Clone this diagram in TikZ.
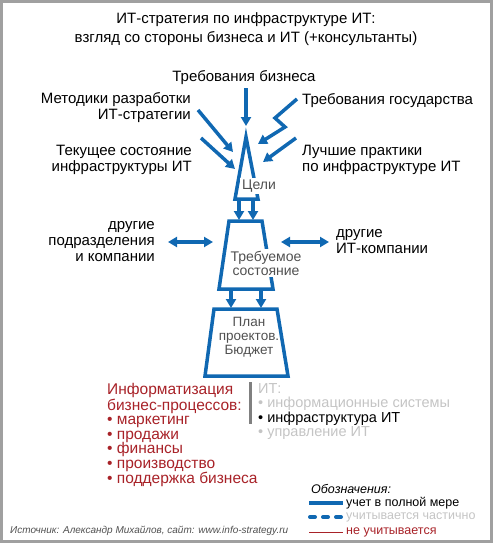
\documentclass[tikz,border=0pt]{standalone}
\usepackage{fontspec}
\setmainfont{Liberation Sans}
\usepackage{tikz}
\usetikzlibrary{arrows.meta}
\usetikzlibrary{positioning}
\usepackage{xcolor}
\definecolor{itblue}{RGB}{16,104,178}
\definecolor{bizred}{RGB}{168,34,40}
\definecolor{softgray}{RGB}{196,196,196}
\definecolor{midgray}{RGB}{80,80,80}
\definecolor{framegray}{RGB}{160,160,160}
\tikzset{
    flow/.style={
        draw=itblue,
        line width=3.5pt,
        -{Triangle[length=9pt, width=10pt]}
    },
    dual/.style={
        draw=itblue,
        line width=3.5pt,
        {Triangle[length=9pt, width=10pt]}-{Triangle[length=9pt, width=10pt]}
    },
    block/.style={
        draw=itblue,
        line width=3.5pt,
        line join=miter
    },
    lbl/.style={
        inner sep=0pt,
        font=\fontsize{15}{16}\selectfont
    },
    inlbl/.style={
        fill=white,
        inner sep=2pt,
        align=center,
        text=midgray,
        font=\fontsize{14}{14}\selectfont
    }
}

\begin{document}
\begin{tikzpicture}[x=1pt, y=-1pt]
  \useasboundingbox (0,0) rectangle (493,543);
  \draw[framegray, line width=2.5pt] (1.5,1.5) rectangle (491.5,541.5);

  % Title
  \node[lbl, align=center, font=\fontsize{15}{19}\selectfont] (title) at (246,29)
    {ИТ-стратегия по инфраструктуре ИТ:\\взгляд со стороны бизнеса и ИТ (+консультанты)};

  % Inputs
  \node[lbl] (biz) at (244,78) {Требования бизнеса};
  \node[lbl, anchor=east, align=right] (method) at (191,108) {Методики разработки\\ИТ-стратегии};
  \node[lbl, anchor=west] (gov) at (302,101) {Требования государства};
  \node[lbl, anchor=east, align=right] (current) at (192,160) {Текущее состояние\\инфраструктуры ИТ};
  \node[lbl, anchor=west, align=left] (best) at (302,160) {Лучшие практики\\по инфраструктуре ИТ};
  \node[lbl, anchor=east, align=right] (units) at (155,242) {другие\\подразделения\\и компании};
  \node[lbl, anchor=west, align=left] (itcomp) at (336,242) {другие\\ИТ-компании};

  % Goals
  \coordinate (g1) at (246,137);
  \coordinate (g2) at (235,199);
  \coordinate (g3) at (258,199);
  \draw[block] (g1) -- (g2) -- (g3) -- cycle;

  % Target state
  \coordinate (m1) at (229,221);
  \coordinate (m2) at (262,221);
  \coordinate (m3) at (273,289);
  \coordinate (m4) at (219,289);
  \draw[block] (m1) -- (m2) -- (m3) -- (m4) -- cycle;

  % Plan
  \coordinate (p1) at (214,309);
  \coordinate (p2) at (277,309);
  \coordinate (p3) at (288,376);
  \coordinate (p4) at (205,376);
  \draw[block] (p1) -- (p2) -- (p3) -- (p4) -- cycle;

  \node[inlbl] (goals) at (259,186) {Цели};
  \node[inlbl] (target) at (266,263) {Требуемое\\состояние};
  \node[inlbl, fill=none, font=\fontsize{13.5}{14}\selectfont] (plan) at (249,337) {План\\проектов.\\Бюджет};

  % Arrows into goals
  \coordinate (bizs) at (246,88);
  \coordinate (bize) at (246,126);
  \coordinate (meths) at (198,110);
  \coordinate (methe) at (233,152);
  \coordinate (curs) at (201,138);
  \coordinate (cure) at (235,169);
  \coordinate (govs) at (297,99);
  \coordinate (govk1) at (275,118);
  \coordinate (govk2) at (285,127);
  \coordinate (gove) at (258,144);
  \coordinate (bests) at (296,138);
  \coordinate (beste) at (263,162);
  \draw[flow] (bizs) -- (bize);
  \draw[flow] (meths) -- (methe);
  \draw[flow] (curs) -- (cure);
  \draw[flow, line join=miter] (govs) -- (govk1) -- (govk2) -- (gove);
  \draw[flow] (bests) -- (beste);

  % Goals to target, target to plan
  \coordinate (gm1s) at (239,199);
  \coordinate (gm1e) at (239,220);
  \coordinate (gm2s) at (253,199);
  \coordinate (gm2e) at (253,220);
  \coordinate (mp1s) at (231,289);
  \coordinate (mp1e) at (231,308);
  \coordinate (mp2s) at (261,289);
  \coordinate (mp2e) at (261,308);
  \draw[flow] (gm1s) -- (gm1e);
  \draw[flow] (gm2s) -- (gm2e);
  \draw[flow] (mp1s) -- (mp1e);
  \draw[flow] (mp2s) -- (mp2e);

  % Exchange with others
  \coordinate (ul) at (168,242);
  \coordinate (ur) at (213,242);
  \coordinate (il) at (281,242);
  \coordinate (ir) at (329,242);
  \draw[dual] (ul) -- (ur);
  \draw[dual] (il) -- (ir);

  % Scope lists
  \node[anchor=north west, align=left, inner sep=0pt, text=bizred,
        font=\fontsize{15.5}{14.5}\selectfont] (bizlist) at (107,383)
    {Информатизация\\бизнес-процессов:\\• маркетинг\\• продажи\\• финансы\\• производство\\• поддержка бизнеса};
  \coordinate (bar1) at (250,382);
  \coordinate (bar2) at (250,424);
  \draw[gray, line width=3pt] (bar1) -- (bar2);
  \node[anchor=north west, align=left, inner sep=0pt, text=softgray,
        font=\fontsize{14.5}{14.5}\selectfont] (itlist) at (258,383)
    {ИТ:\\• информационные системы\\\textcolor{black}{• инфраструктура ИТ}\\• управление ИТ};

  % Legend
  \node[anchor=west, inner sep=0pt, font=\fontsize{12.5}{14}\itshape] (legend) at (311,489) {Обозначения:};
  \coordinate (l1a) at (309,503);
  \coordinate (l1b) at (343,503);
  \coordinate (l2a) at (310,517);
  \coordinate (l2b) at (343,517);
  \coordinate (l3a) at (309,532);
  \coordinate (l3b) at (343,532);
  \draw[itblue, line width=3.5pt] (l1a) -- (l1b);
  \draw[itblue, line width=4pt, line cap=round, dash pattern=on 5pt off 8pt] (l2a) -- (l2b);
  \draw[bizred, line width=1pt] (l3a) -- (l3b);
  \node[anchor=west, inner sep=0pt, font=\fontsize{12.5}{14}\selectfont] (full) at (346,503) {учет в полной мере};
  \node[anchor=west, inner sep=0pt, text=softgray, font=\fontsize{12.5}{14}\selectfont] (part) at (346,517) {учитывается частично};
  \node[anchor=west, inner sep=0pt, text=bizred, font=\fontsize{12.5}{14}\selectfont] (none) at (346,532) {не учитывается};

  % Source
  \node[anchor=west, inner sep=0pt, text=midgray, font=\fontsize{10}{12}\itshape] (source) at (10,531)
    {Источник: Александр Михайлов, сайт: www.info-strategy.ru};
\end{tikzpicture}
\end{document}
